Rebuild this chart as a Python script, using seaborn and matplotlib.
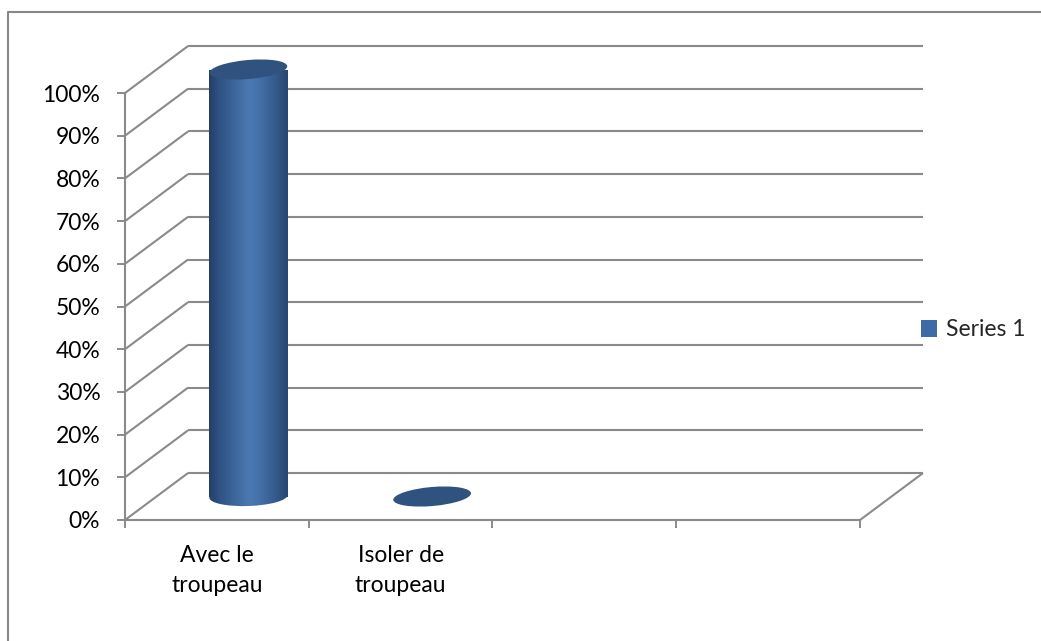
import numpy as np
import pandas as pd
import matplotlib
matplotlib.use("Agg")
import matplotlib.pyplot as plt
import matplotlib.transforms as mtransforms
import seaborn as sns
from matplotlib.patches import Ellipse, Patch
from matplotlib.lines import Line2D
from matplotlib.colors import LinearSegmentedColormap

# ---- data ----
categories = ["Avec le\ntroupeau", "Isoler de\ntroupeau", " ", "  "]
values = [1.0, 0.0, np.nan, np.nan]
series_name = "Series 1"
y_ticks = [0.0, 0.1, 0.2, 0.3, 0.4, 0.5, 0.6, 0.7, 0.8, 0.9, 1.0]
y_tick_labels = ["0%", "10%", "20%", "30%", "40%", "50%", "60%", "70%", "80%", "90%", "100%"]

# ---- style ----
sns.set_style("white")
plt.rcParams["font.family"] = ["Lato", "DejaVu Sans"]
GRID = "#8a8a8a"
BAR_FLAT = "#3d6ba7"
CAP = "#2f527f"
FONT_SIZE = 16.5

W, H = 1041, 641
fig = plt.figure(figsize=(W / 100, H / 100), dpi=100)
# front plane of the 3-D box
ax = fig.add_axes([125 / W, (H - 520) / H, 735 / W, 427 / H])

df = pd.DataFrame({"cat": categories, "val": values})
sns.barplot(data=df, x="cat", y="val", order=categories, width=0.4245,
            color=BAR_FLAT, errorbar=None, ax=ax, linewidth=0)

ax.set_xlim(-0.5, len(categories) - 0.5)
ax.set_ylim(0, 1)
ax.set_xlabel("")
ax.set_ylabel("")

# depth of the box (data units): back wall offset and mid-depth for the columns
DX, DY = 0.343, 0.110
MX, MY = DX / 2, DY / 2
x0, x1 = -0.5, len(categories) - 0.5

line_kw = dict(color=GRID, lw=1.5, clip_on=False, solid_capstyle="butt")
for t in y_ticks:
    # back wall gridline + side-wall diagonal
    ax.plot([x0 + DX, x1 + DX], [t + DY, t + DY], **line_kw)
    ax.plot([x0, x0 + DX], [t, t + DY], **line_kw)
# floor right edge
ax.plot([x1, x1 + DX], [0, DY], **line_kw)

# spines / ticks
for s in ("top", "right"):
    ax.spines[s].set_visible(False)
for s in ("left", "bottom"):
    ax.spines[s].set_color(GRID)
    ax.spines[s].set_linewidth(1.5)

ax.set_yticks(y_ticks)
ax.set_yticklabels(y_tick_labels)
ax.tick_params(axis="y", length=5.8, width=1.4, color=GRID, pad=12,
               labelsize=FONT_SIZE, labelcolor="black", left=True)

ax.set_xticks(np.arange(-0.5, len(categories), 1.0))
ax.set_xticklabels([])
ax.set_xticks(np.arange(len(categories)), minor=True)
ax.set_xticklabels(categories, minor=True)
ax.tick_params(axis="x", which="major", length=5.8, width=1.4, color=GRID, bottom=True)
ax.tick_params(axis="x", which="minor", length=0, pad=18,
               labelsize=FONT_SIZE, labelcolor="black")
for lbl in ax.get_xticklabels(minor=True):
    lbl.set_linespacing(1.5)

# cylinder shading
cyl_cmap = LinearSegmentedColormap.from_list(
    "cyl", [(0.0, "#233f66"), (0.12, "#2d5182"), (0.5, "#4a79b1"),
            (0.62, "#4672aa"), (0.85, "#34598b"), (1.0, "#284670")])
grad = np.linspace(0, 1, 256)[None, :]

fig.canvas.draw()
px_per_x = ax.transData.transform((1, 0))[0] - ax.transData.transform((0, 0))[0]
CAP_H = 19
CAP_ANGLE = 5


def pixel_ellipse(cx, cy, wpx, angle=CAP_ANGLE, **kw):
    tr = mtransforms.Affine2D() + mtransforms.ScaledTranslation(cx, cy, ax.transData)
    return Ellipse((0, 0), wpx, CAP_H, angle=angle, transform=tr, **kw)


for p in list(ax.patches):
    h = p.get_height()
    if h is None or np.isnan(h):
        continue
    w = p.get_width()
    xc = p.get_x() + w / 2 + MX
    p.set_x(p.get_x() + MX)
    p.set_y(MY)
    p.set_clip_on(False)
    wpx = w * px_per_x
    if h > 0:
        # cylinder body and its rounded bottom
        for clip in (p, pixel_ellipse(xc, MY, wpx, angle=2)):
            im = ax.imshow(grad, cmap=cyl_cmap, aspect="auto",
                           extent=[xc - w / 2, xc + w / 2, MY - 0.05, MY + h],
                           zorder=3, interpolation="bilinear")
            im.set_clip_path(clip)
        p.set_visible(False)
    # top cap
    ax.add_patch(pixel_ellipse(xc, MY + h, wpx, facecolor=CAP,
                               edgecolor="none", zorder=4, clip_on=False))

ax.set_xlim(x0, x1)
ax.set_ylim(0, 1)

# legend
fig.legend(handles=[Patch(facecolor=BAR_FLAT, edgecolor="none", label=series_name)],
           loc="center left", bbox_to_anchor=(912 / W, 1 - 330 / H),
           frameon=False, fontsize=FONT_SIZE, handlelength=0.7, handleheight=0.7,
           handletextpad=0.4, borderaxespad=0)

# chart-area border (left and top edges)
fig.add_artist(Line2D([8 / W, 8 / W, 1], [0, 1 - 12 / H, 1 - 12 / H],
                      transform=fig.transFigure, color="#878787", lw=1.5))

fig.savefig("out.png", dpi=100)
